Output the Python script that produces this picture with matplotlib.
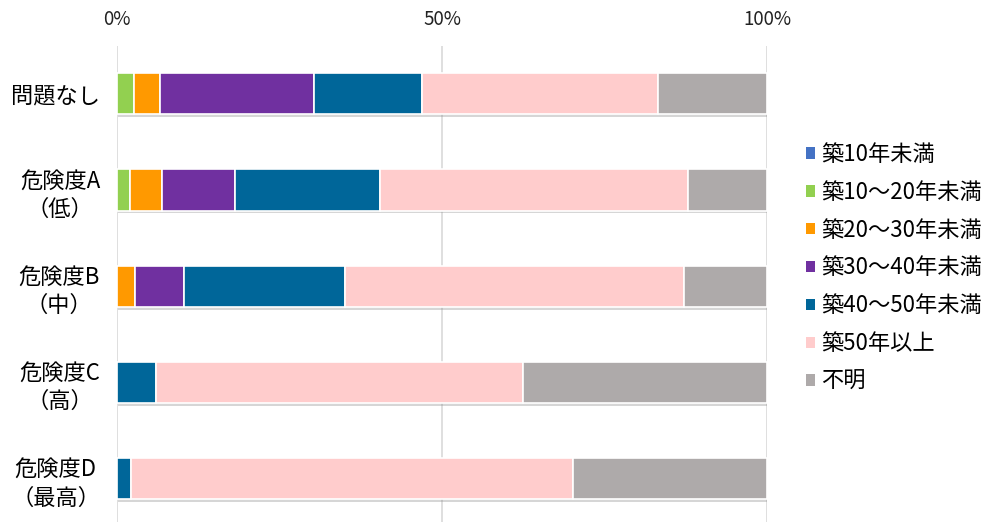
import matplotlib
matplotlib.use("Agg")
import matplotlib.pyplot as plt
import matplotlib.patheffects as pe
import numpy as np

plt.rcParams['font.family'] = ['Noto Sans CJK JP', 'DejaVu Sans']

categories = ['問題なし', '危険度A\n（低）', '危険度B\n（中）', '危険度C\n（高）', '危険度D\n（最高）']
series_names = ['築10年未満', '築10～20年未満', '築20～30年未満', '築30～40年未満',
                '築40～50年未満', '築50年以上', '不明']
s_lt10 = [0.0, 0.0, 0.0, 0.0, 0.0]
s_10_20 = [2.6, 2.0, 0.0, 0.0, 0.0]
s_20_30 = [4.1, 4.9, 2.8, 0.0, 0.0]
s_30_40 = [23.6, 11.3, 7.5, 0.0, 0.0]
s_40_50 = [16.7, 22.2, 24.8, 6.0, 2.2]
s_50plus = [36.2, 47.4, 52.1, 56.4, 68.0]
s_unknown = [16.8, 12.2, 12.8, 37.6, 29.8]
colors = ['#4472C4', '#92D050', '#FF9900', '#7030A0', '#006699', '#FFCCCC', '#AEAAAA']

data = [s_lt10, s_10_20, s_20_30, s_30_40, s_40_50, s_50plus, s_unknown]

fig = plt.figure(figsize=(9.91, 5.22), dpi=100)
ax = fig.add_axes([116.7 / 991, 0.0, (767.3 - 116.7) / 991, 1 - 45.6 / 522])

y = np.arange(len(categories))
left = np.zeros(len(categories))
shadow = [pe.SimplePatchShadow(offset=(1.0, -2.0), shadow_rgbFace='#8a8a8a', alpha=0.35), pe.Normal()]
for name, vals, c in zip(series_names, data, colors):
    vals = np.array(vals)
    bars = ax.barh(y, vals, left=left, height=0.43, color=c, edgecolor='white',
                   linewidth=1.2, label=name, zorder=3)
    for b in bars:
        b.set_path_effects(shadow)
    left += vals

ax.set_xlim(0, 100)
ax.set_ylim(4.45, -0.5)
ax.set_xticks([0, 50, 100])
ax.set_xticklabels(['0%', '50%', '100%'])
ax.xaxis.tick_top()
ax.tick_params(axis='x', length=0, pad=11, labelsize=13.5, labelcolor='#222222')
ax.set_yticks(y)
ax.set_yticklabels(categories)
ax.tick_params(axis='y', length=0, pad=12, labelsize=16)
for t in ax.get_yticklabels():
    t.set_multialignment('center')
    t.set_linespacing(1.3)
ax.grid(axis='x', color='#d9d9d9', linewidth=1.2, zorder=0)
ax.set_axisbelow(True)
for s in ax.spines.values():
    s.set_visible(False)

leg = fig.legend(loc='center left', bbox_to_anchor=(806 / 991, 1 - 268 / 522),
                 frameon=False, fontsize=16, handlelength=0.42, handleheight=0.42,
                 handletextpad=0.25, labelspacing=0.67, borderpad=0, borderaxespad=0)
for h in leg.legend_handles:
    h.set_edgecolor('none')
    h.set_path_effects([])

fig.savefig('out.png', dpi=100)
